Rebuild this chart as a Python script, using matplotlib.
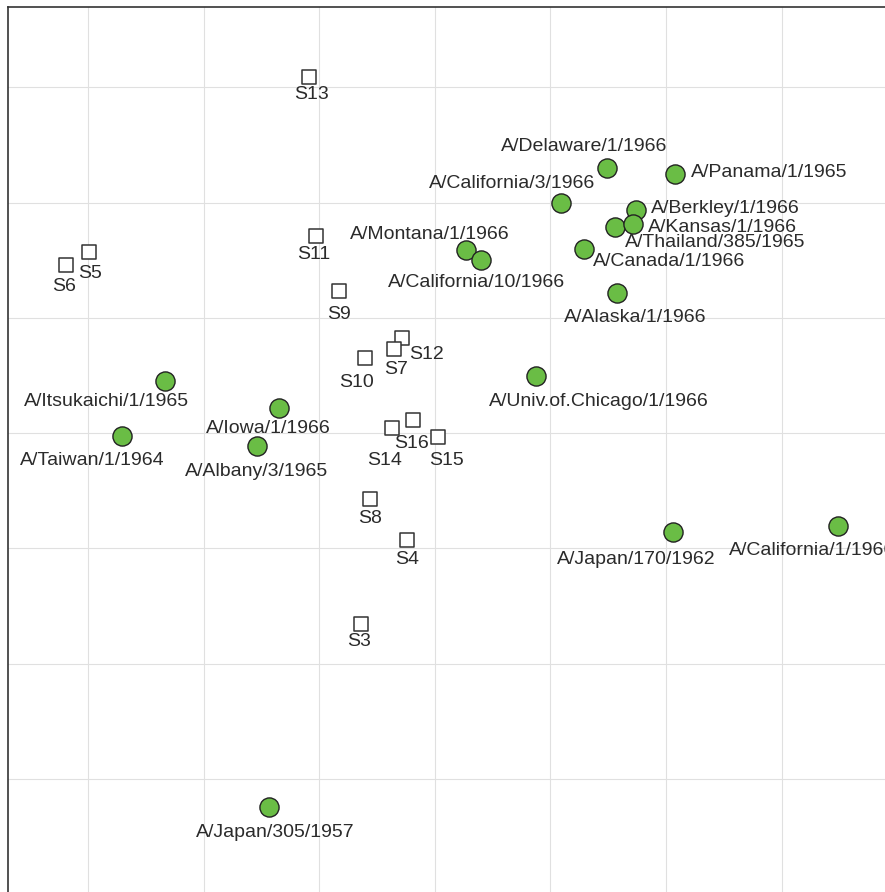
import matplotlib
matplotlib.use("Agg")
import matplotlib.pyplot as plt
import numpy as np

plt.rcParams['font.family'] = ['Liberation Sans', 'DejaVu Sans']

# antigens (strains), map coordinates in antigenic units
antigen_names = [
    "A/Delaware/1/1966", "A/Panama/1/1965", "A/California/3/1966",
    "A/Berkley/1/1966", "A/Thailand/385/1965", "A/Kansas/1/1966",
    "A/Canada/1/1966", "A/Montana/1/1966", "A/California/10/1966",
    "A/Alaska/1/1966", "A/Univ.of.Chicago/1/1966", "A/Itsukaichi/1/1965",
    "A/Iowa/1/1966", "A/Taiwan/1/1964", "A/Albany/3/1965",
    "A/Japan/170/1962", "A/California/1/1966", "A/Japan/305/1957",
]
antigen_x = [4.487, 5.078, 4.091, 4.740, 4.558, 4.712, 4.290, 3.268, 3.398,
             4.578, 3.874, 0.660, 1.647, 0.290, 1.459, 5.063, 6.487, 1.560]
antigen_y = [-0.697, -0.752, -1.001, -1.064, -1.212, -1.186, -1.400, -1.411, -1.498,
             -1.788, -2.504, -2.545, -2.779, -3.027, -3.111, -3.854, -3.805, -6.245]

# sera
sera_names = ["S3", "S4", "S5", "S6", "S12", "S7", "S8", "S9", "S10",
              "S11", "S13", "S14", "S15", "S16"]
sera_x = [2.357, 2.760, 0.007, -0.195, 2.717, 2.648, 2.437, 2.169, 2.394,
          1.970, 1.912, 2.625, 3.023, 2.807]
sera_y = [-4.655, -3.926, -1.426, -1.541, -2.172, -2.272, -3.571, -1.764, -2.350,
          -1.287, 0.092, -2.952, -3.036, -2.886]

# label placement (offset in pixels, horizontal alignment)
antigen_offsets = [(-23, 21, 'center'), (16, 1, 'left'), (-49, 19, 'center'),
                   (15, 1, 'left'), (10, -15, 'left'), (15, -3, 'left'),
                   (9, -13, 'left'), (-36, 15, 'center'), (-4, -23, 'center'),
                   (18, -24, 'center'), (63, -26, 'center'), (-58, -21, 'center'),
                   (-10, -21, 'center'), (-30, -24, 'center'), (0, -26, 'center'),
                   (-37, -28, 'center'), (-109, -24, 'left'), (7, -25, 'center')]
sera_offsets = [(-2, -17), (0, -20), (1, -22), (-2, -22), (24, -17), (2, -20),
                (0, -19), (0, -24), (-8, -24), (-2, -19), (2, -18), (-7, -33),
                (9, -23), (-1, -23)]

W, H = 885, 892
fig = plt.figure(figsize=(W / 100, H / 100), dpi=100)
ax = fig.add_axes([7.5 / W, 0, 1 - 7.5 / W, 1 - 7 / H])

ax.set_xlim(-0.701, 6.896)
ax.set_ylim(-6.979, 0.696)
ax.set_xticks(np.arange(0, 7))
ax.set_yticks(np.arange(-6, 1))
ax.tick_params(length=0, labelbottom=False, labelleft=False)
ax.grid(True, color='#e0e0e0', linewidth=0.8)
ax.set_axisbelow(True)
for side in ['right', 'bottom']:
    ax.spines[side].set_visible(False)
for side in ['left', 'top']:
    ax.spines[side].set_color('#333333')
    ax.spines[side].set_linewidth(1.2)

ax.scatter(sera_x, sera_y, marker='s', s=105, facecolor='white',
           edgecolor='#333333', linewidth=1.1, zorder=3)
for i in range(len(antigen_names)):
    ax.scatter(antigen_x[i], antigen_y[i], marker='o', s=190, facecolor='#6abd45',
               edgecolor='#222222', linewidth=1.0, zorder=4)

txt = dict(fontsize=14, color='#2b2b2b', va='center', zorder=5,
           textcoords='offset pixels')
for name, x, y, (dx, dy, ha) in zip(antigen_names, antigen_x, antigen_y, antigen_offsets):
    ax.annotate(name, (x, y), xytext=(dx, dy), ha=ha, **txt)
for name, x, y, (dx, dy) in zip(sera_names, sera_x, sera_y, sera_offsets):
    ax.annotate(name, (x, y), xytext=(dx, dy), ha='center', **txt)

fig.savefig("out.png", dpi=100)
